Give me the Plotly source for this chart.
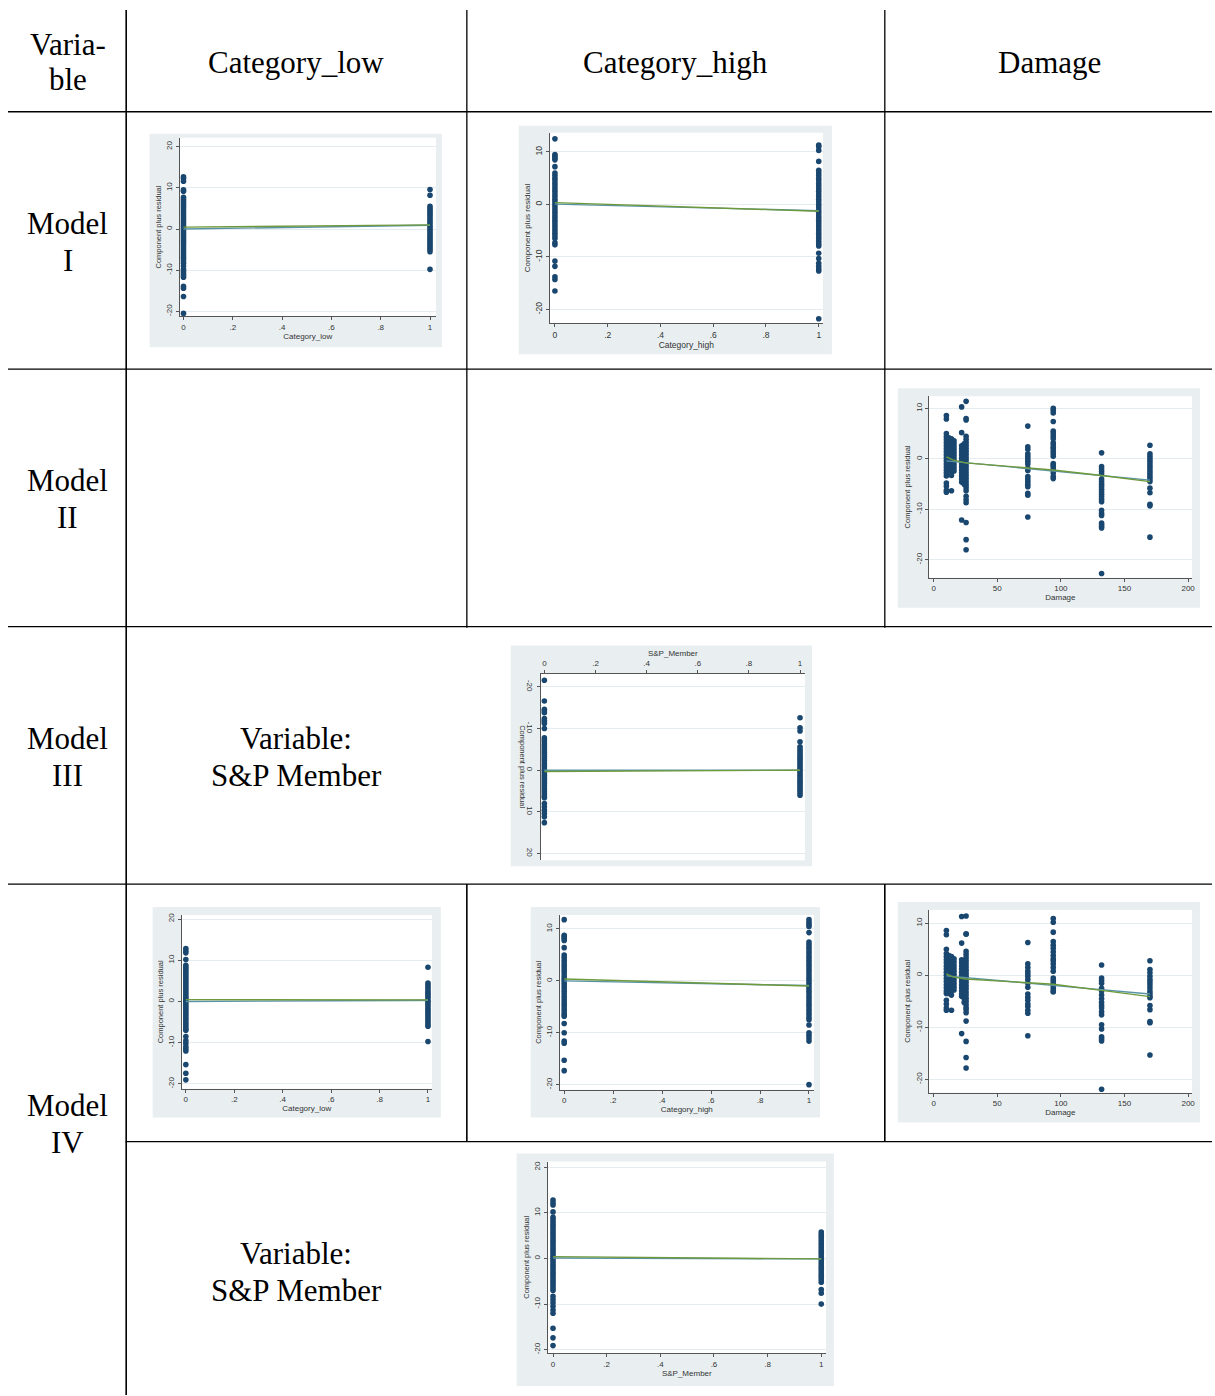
import plotly.graph_objects as go

W, H = 1215, 1396

# ---------------- data ----------------
bin_ticks = [0, 0.2, 0.4, 0.6, 0.8, 1]
bin_ticklabels = ["0", ".2", ".4", ".6", ".8", "1"]
dmg_ticks = [0, 50, 100, 150, 200]
dmg_ticklabels = ["0", "50", "100", "150", "200"]
y_ticks_wide = [-20, -10, 0, 10, 20]
y_ticks_narrow = [-20, -10, 0, 10]

header_labels = ["Category_low", "Category_high", "Damage"]
row_labels = [("Model", "I"), ("Model", "II"), ("Model", "III"), ("Model", "IV")]
y_title = "Component plus residual"

# Model I - Category_low
m1_low_at0 = [12.7, 12.3, 11.6, 9.5, 9.2, 7.7, 7.2, 6.7, 6.2, 5.7, 5.2, 4.7, 4.2, 3.7, 3.2, 2.7, 2.2, 1.7,
              1.2, 0.7, 0.2, -0.3, -0.8, -1.3, -1.8, -2.3, -2.8, -3.3, -3.8, -4.3, -4.8, -5.3, -5.8, -6.3,
              -6.8, -7.2, -7.8, -8.3, -9.0, -9.8, -10.3, -10.8, -11.3, -11.7, -13.9, -14.4, -16.4, -20.5]
m1_low_at1 = [9.6, 8.2, 5.5, 5.0, 4.5, 4.0, 3.5, 3.0, 2.5, 2.0, 1.5, 1.0, 0.5, 0.0, -0.5, -1.0, -1.5,
              -2.0, -2.5, -3.0, -3.5, -4.0, -4.5, -5.0, -5.5, -9.8]
m1_low_lowess = [0.45, 1.0]
m1_low_fit = [0.0, 0.9]

# Model I - Category_high
m1_high_at0 = [12.5, 9.5, 9.2, 8.8, 8.5, 7.2, 6.0, 5.5, 5.0, 4.5, 4.0, 3.5, 3.0, 2.5, 2.0, 1.5, 1.0, 0.5,
               0.0, -0.5, -1.0, -1.5, -2.0, -2.5, -3.0, -3.5, -4.0, -4.5, -5.0, -5.5, -6.0, -6.5, -7.3,
               -7.7, -10.8, -11.8, -13.8, -14.3, -16.5]
m1_high_at1 = [11.3, 11.0, 10.3, 8.2, 6.5, 6.0, 5.5, 5.0, 4.5, 4.0, 3.5, 3.0, 2.5, 2.0, 1.5, 1.0, 0.5,
               0.0, -0.5, -1.0, -1.5, -2.0, -2.5, -3.0, -3.5, -4.0, -4.5, -5.0, -5.5, -6.0, -6.5, -7.0,
               -7.5, -7.9, -9.3, -10.3, -11.2, -11.8, -12.3, -12.7, -21.8]
m1_high_lowess = [0.35, -1.3]
m1_high_fit = [0.05, -1.2]

# Damage levels (x) shared by the two Damage panels
damage_levels = [10, 12, 14, 16, 22, 24, 25.5, 74, 94, 132, 170]

# Model II - Damage
m2_dmg_values = [
    [8.6, 7.9, 5.0, 4.4, 3.8, 3.2, 2.6, 2.0, 1.4, 0.8, 0.2, -0.4, -1.0, -1.6, -2.2, -2.8, -3.4, -4.8, -5.4, -6.2, -6.6],
    [4.2, 3.6, 3.0, 2.4, 1.8, 1.2, 0.6, 0.0, -0.6, -1.2, -1.8, -2.4, -3.0],
    [4.0, 3.4, 2.8, 2.2, 1.6, 1.0, 0.4, -0.2, -0.8, -1.4, -2.0, -2.6, -3.3, -6.3],
    [3.6, 3.0, 2.4, 1.8, 1.2, 0.6, 0.0, -0.6, -1.2, -1.8, -2.4],
    [10.3, 5.2, 2.6, 2.0, 1.4, 0.8, 0.2, -0.4, -1.0, -1.6, -2.2, -2.8, -3.4, -4.0, -4.6, -12.1],
    [3.0, 2.4, 1.8, 1.2, 0.6, 0.0, -0.6, -1.2, -1.8, -2.4, -3.0, -3.6, -4.2, -5.0],
    [11.4, 8.0, 7.7, 4.5, 3.9, 3.3, 2.7, 2.1, 1.5, 0.9, 0.3, -0.3, -0.9, -1.5, -2.1, -2.7, -3.3, -3.9, -4.5,
     -5.1, -5.7, -6.3, -7.4, -8.1, -8.7, -12.6, -16.0, -18.0],
    [6.5, 2.4, 1.9, 1.0, 0.5, 0.0, -0.5, -1.0, -1.8, -2.3, -3.5, -4.0, -4.5, -5.0, -5.5, -6.8, -7.2, -11.5],
    [10.0, 9.6, 9.1, 7.4, 5.5, 5.0, 4.5, 4.0, 3.2, 2.8, 2.3, 2.0, 1.5, 1.0, 0.5, -0.9, -1.2, -1.5, -2.0,
     -2.3, -2.8, -3.5, -3.9],
    [1.2, -1.5, -2.0, -2.5, -3.0, -4.0, -4.5, -5.0, -5.5, -6.0, -6.5, -7.0, -7.5, -8.0, -8.5, -10.2, -10.8,
     -11.2, -12.7, -13.0, -13.4, -13.7, -22.7],
    [2.7, 1.0, 0.5, 0.0, -0.5, -1.0, -1.5, -2.0, -2.5, -3.0, -3.5, -4.0, -4.5, -5.8, -6.7, -9.0, -9.3, -15.5],
]
dmg_lowess_x = [10, 15, 25, 74, 94, 132, 170]
m2_dmg_lowess = [0.4, -0.2, -0.8, -1.8, -2.2, -3.3, -4.5]
dmg_fit_x = [10, 170]
m2_dmg_fit = [-0.4, -4.2]

# Model III - S&P Member (panel is shown vertically flipped)
m3_sp_at0 = [-21.6, -16.6, -14.6, -14.2, -13.8, -12.4, -12.0, -11.6, -11.2, -10.0, -7.8, -7.3, -6.8, -6.3,
             -5.8, -5.3, -4.8, -4.3, -3.8, -3.3, -2.8, -2.3, -1.8, -1.3, -0.8, -0.3, 0.2, 0.7, 1.2, 1.7,
             2.2, 2.7, 3.2, 3.7, 4.2, 4.7, 5.2, 5.7, 6.2, 6.6, 8.0, 8.8, 9.6, 10.4, 11.2, 12.6]
m3_sp_at1 = [-12.6, -10.2, -9.4, -6.8, -5.6, -5.1, -4.6, -4.1, -3.6, -3.1, -2.6, -2.1, -1.6, -1.1, -0.6,
             -0.1, 0.4, 0.9, 1.4, 1.9, 2.4, 2.9, 3.4, 3.9, 4.4, 4.9, 5.4, 6.0]
m3_sp_lowess = [0.3, 0.0]
m3_sp_fit = [0.0, 0.0]

# Model IV - Category_low
m4_low_at0 = [12.85, 12.3, 11.8, 10.2, 8.8, 8.3, 7.8, 7.3, 6.8, 6.3, 5.8, 5.3, 4.8, 4.3, 3.8, 3.3, 2.8, 2.3,
              1.8, 1.3, 0.8, 0.3, -0.2, -0.7, -1.2, -1.7, -2.2, -2.7, -3.2, -3.7, -4.2, -4.7, -5.2, -5.7,
              -6.2, -6.7, -7.0, -8.5, -9.5, -10.2, -11.0, -11.5, -12.0, -15.3, -17.4, -19.0]
m4_low_at1 = [8.3, 4.5, 4.0, 3.5, 3.0, 2.5, 2.0, 1.5, 1.0, 0.5, 0.0, -0.5, -1.0, -1.5, -2.0, -2.5, -3.0,
              -3.5, -4.0, -4.5, -5.0, -5.5, -6.0, -9.7]
m4_low_lowess = [0.45, 0.4]
m4_low_fit = [0.0, 0.3]

# Model IV - Category_high
m4_high_at0 = [11.8, 8.8, 8.5, 8.2, 7.8, 6.4, 5.0, 4.5, 4.0, 3.5, 3.0, 2.5, 2.0, 1.5, 1.0, 0.5, 0.0, -0.5,
               -1.0, -1.5, -2.0, -2.5, -3.0, -3.5, -4.0, -4.5, -5.0, -5.5, -6.0, -6.5, -6.8, -8.2, -10.0,
               -11.6, -12.0, -15.3, -17.3]
m4_high_at1 = [11.8, 11.3, 10.8, 10.5, 9.3, 7.5, 7.0, 6.5, 6.0, 5.5, 5.0, 4.5, 4.0, 3.5, 3.0, 2.5, 2.0, 1.5,
               1.0, 0.5, 0.0, -0.5, -1.0, -1.5, -2.0, -2.5, -3.0, -3.5, -4.0, -4.5, -5.0, -5.5, -6.0, -6.5,
               -7.0, -7.5, -8.5, -10.0, -10.5, -11.0, -11.6, -20.0]
m4_high_lowess = [0.35, -1.0]
m4_high_fit = [0.0, -0.9]

# Model IV - Damage
m4_dmg_values = [
    [8.6, 7.8, 5.0, 4.2, 3.6, 3.0, 2.4, 1.8, 1.2, 0.6, 0.0, -0.6, -1.2, -1.8, -2.4, -3.0, -3.5, -4.8, -5.5, -6.3, -6.7],
    [3.8, 3.2, 2.6, 2.0, 1.4, 0.8, 0.2, -0.4, -1.0, -1.6, -2.2, -2.8, -3.5],
    [3.6, 3.0, 2.4, 1.8, 1.2, 0.6, 0.0, -0.6, -1.2, -1.8, -2.4, -3.0, -3.8, -6.7],
    [3.2, 2.6, 2.0, 1.4, 0.8, 0.2, -0.4, -1.0, -1.6, -2.2, -2.8],
    [11.3, 6.2, 3.0, 2.4, 1.8, 1.2, 0.6, 0.0, -0.6, -1.2, -1.8, -2.4, -3.0, -3.6, -4.0, -11.2],
    [2.8, 2.2, 1.6, 1.0, 0.4, -0.2, -0.8, -1.4, -2.0, -2.6, -3.2, -3.8, -4.5, -5.2],
    [11.4, 8.0, 7.9, 4.6, 4.0, 3.4, 2.8, 2.2, 1.6, 1.0, 0.4, -0.2, -0.8, -1.4, -2.0, -2.6, -3.2, -3.8, -4.4,
     -5.0, -5.6, -6.2, -6.6, -7.2, -8.8, -12.7, -15.8, -17.8],
    [6.3, 2.2, 1.5, 0.8, 0.3, -0.2, -0.8, -1.5, -2.3, -3.6, -4.2, -4.8, -5.5, -6.0, -6.7, -7.3, -11.6],
    [10.9, 10.2, 8.3, 6.5, 5.8, 5.2, 4.5, 3.8, 3.2, 2.8, 2.2, 1.5, 0.8, -0.5, -1.0, -1.5, -2.0, -2.5, -3.0, -3.2],
    [2.0, -0.5, -1.0, -1.5, -2.5, -3.0, -3.8, -4.5, -5.2, -5.8, -6.3, -7.0, -7.6, -9.5, -10.3, -11.8, -12.2,
     -12.6, -21.9],
    [2.8, 1.1, 0.5, -0.2, -0.8, -1.3, -1.8, -2.4, -3.0, -3.5, -4.0, -4.3, -5.8, -6.6, -8.9, -9.1, -15.3],
]
m4_dmg_lowess = [0.3, -0.3, -0.7, -1.4, -1.7, -2.9, -4.1]
m4_dmg_fit = [-0.1, -3.6]

# Model IV - S&P Member
m4_sp_at0 = [12.8, 12.2, 11.7, 10.2, 9.0, 8.5, 8.0, 7.5, 7.0, 6.5, 6.0, 5.5, 5.0, 4.5, 4.0, 3.5, 3.0, 2.5,
             2.0, 1.5, 1.0, 0.5, 0.0, -0.5, -1.0, -1.5, -2.0, -2.5, -3.0, -3.5, -4.0, -4.5, -5.0, -5.5,
             -6.0, -6.5, -7.0, -8.3, -9.0, -9.7, -10.5, -11.3, -12.0, -15.3, -17.4, -19.1]
m4_sp_at1 = [5.8, 5.3, 4.8, 4.3, 3.8, 3.3, 2.8, 2.3, 1.8, 1.3, 0.8, 0.3, -0.2, -0.7, -1.2, -1.7, -2.2,
             -2.7, -3.2, -3.7, -4.2, -4.7, -5.2, -6.8, -7.6, -10.0]
m4_sp_lowess = [0.4, -0.1]
m4_sp_fit = [0.1, -0.1]

# ---------------- styling ----------------
DOT = "#1a476f"
GREEN = "#6f9a3c"
TEAL = "#5a93a8"
BG = "#E9EFF1"
GRID = "#E4ECEF"
AXIS = "#555555"
SERIF = "Liberation Serif"
SANS = "Liberation Sans"

fig = go.Figure()
shapes = []
annotations = []
layout_axes = {}


def px_x(v):
    return v / W


def px_y(v):
    return 1 - v / H


def binary_points(at0, at1):
    return [0] * len(at0) + [1] * len(at1), at0 + at1


def damage_points(levels, values):
    xs, ys = [], []
    for lv, vals in zip(levels, values):
        xs += [lv] * len(vals)
        ys += vals
    return xs, ys


def add_panel(i, bg_box, plot_box, xr, yr, xticks, xlabels, yticks, xtitle,
              pts, lines, flip=False, fs=8):
    xn = "x" if i == 1 else f"x{i}"
    yn = "y" if i == 1 else f"y{i}"
    xk = "xaxis" if i == 1 else f"xaxis{i}"
    yk = "yaxis" if i == 1 else f"yaxis{i}"
    bx0, by0, bx1, by1 = bg_box
    x0, y0, x1, y1 = plot_box
    shapes.append(dict(type="rect", xref="paper", yref="paper", layer="below",
                       x0=px_x(bx0), x1=px_x(bx1), y0=px_y(by1), y1=px_y(by0),
                       fillcolor=BG, line=dict(width=0)))
    shapes.append(dict(type="rect", xref="paper", yref="paper", layer="below",
                       x0=px_x(x0), x1=px_x(x1), y0=px_y(y1), y1=px_y(y0),
                       fillcolor="white", line=dict(width=0)))
    tickfont = dict(family=SANS, size=fs, color="#333")
    layout_axes[xk] = dict(
        domain=[px_x(x0), px_x(x1)], range=xr, anchor=yn,
        tickvals=xticks, ticktext=xlabels, showline=True, linecolor=AXIS, linewidth=1,
        ticks="outside", ticklen=3, tickcolor=AXIS, tickfont=tickfont,
        showgrid=False, zeroline=False, side="top" if flip else "bottom",
        title=dict(text=xtitle, font=dict(family=SANS, size=fs, color="#333"), standoff=1),
    )
    layout_axes[yk] = dict(
        domain=[px_y(y1), px_y(y0)], range=yr, anchor=xn,
        tickvals=yticks, ticktext=[str(t) for t in yticks], tickangle=90 if flip else -90,
        showline=True, linecolor=AXIS, linewidth=1, ticks="outside", ticklen=3, tickcolor=AXIS,
        tickfont=tickfont, showgrid=True, gridcolor=GRID, gridwidth=1, zeroline=False,
        title=dict(text="" if flip else y_title, font=dict(family=SANS, size=fs - 0.5, color="#333"),
                   standoff=2),
    )
    if flip:
        annotations.append(dict(text=y_title, xref="paper", yref="paper",
                                x=px_x(x0 - 19), y=px_y((y0 + y1) / 2), textangle=90,
                                showarrow=False, font=dict(family=SANS, size=fs - 0.5, color="#333")))
    px, py = pts
    fig.add_trace(go.Scatter(x=px, y=py, mode="markers", xaxis=xn, yaxis=yn,
                             marker=dict(color=DOT, size=5.6, line=dict(width=0)),
                             showlegend=False, hoverinfo="skip"))
    for lx, ly, col in lines:
        fig.add_trace(go.Scatter(x=lx, y=ly, mode="lines", xaxis=xn, yaxis=yn,
                                 line=dict(color=col, width=1.4), showlegend=False, hoverinfo="skip"))


# Model I
add_panel(1, (150, 132, 443, 346), (180, 136, 437, 315), [-0.016, 1.024], [-21.21, 22.18],
          bin_ticks, bin_ticklabels, y_ticks_wide, "Category_low",
          binary_points(m1_low_at0, m1_low_at1),
          [([0, 1], m1_low_fit, TEAL), ([0, 1], m1_low_lowess, GREEN)])
add_panel(2, (520, 124, 834, 353), (551, 131, 825, 322), [-0.020, 1.016], [-22.66, 13.67],
          bin_ticks, bin_ticklabels, y_ticks_narrow, "Category_high",
          binary_points(m1_high_at0, m1_high_at1),
          [([0, 1], m1_high_fit, TEAL), ([0, 1], m1_high_lowess, GREEN)], fs=8.5)
# Model II
add_panel(3, (900, 387, 1203, 607), (931, 395, 1195, 577), [-3.9, 203.1], [-23.55, 12.43],
          dmg_ticks, dmg_ticklabels, y_ticks_narrow, "Damage",
          damage_points(damage_levels, m2_dmg_values),
          [(dmg_fit_x, m2_dmg_fit, TEAL), (dmg_lowess_x, m2_dmg_lowess, GREEN)])
# Model III (flipped)
add_panel(4, (512, 645, 814, 866), (542, 673, 807, 860), [-0.0145, 1.0195], [21.6, -23.2],
          bin_ticks, bin_ticklabels, y_ticks_wide, "S&P_Member",
          binary_points(m3_sp_at0, m3_sp_at1),
          [([0, 1], m3_sp_fit, TEAL), ([0, 1], m3_sp_lowess, GREEN)], flip=True)
# Model IV
add_panel(5, (153, 907, 442, 1118), (182, 915, 433, 1089), [-0.0177, 1.0164], [-21.14, 20.97],
          bin_ticks, bin_ticklabels, y_ticks_wide, "Category_low",
          binary_points(m4_low_at0, m4_low_at1),
          [([0, 1], m4_low_fit, TEAL), ([0, 1], m4_low_lowess, GREEN)])
add_panel(6, (532, 907, 822, 1118), (561, 915, 816, 1090), [-0.0187, 1.0204], [-20.96, 12.69],
          bin_ticks, bin_ticklabels, y_ticks_narrow, "Category_high",
          binary_points(m4_high_at0, m4_high_at1),
          [([0, 1], m4_high_fit, TEAL), ([0, 1], m4_high_lowess, GREEN)])
add_panel(7, (900, 902, 1203, 1123), (931, 910, 1195, 1093), [-3.9, 203.1], [-22.55, 12.55],
          dmg_ticks, dmg_ticklabels, y_ticks_narrow, "Damage",
          damage_points(damage_levels, m4_dmg_values),
          [(dmg_fit_x, m4_dmg_fit, TEAL), (dmg_lowess_x, m4_dmg_lowess, GREEN)])
add_panel(8, (518, 1154, 836, 1387), (549, 1162, 828, 1354), [-0.020, 1.0175], [-20.74, 21.25],
          bin_ticks, bin_ticklabels, y_ticks_wide, "S&P_Member",
          binary_points(m4_sp_at0, m4_sp_at1),
          [([0, 1], m4_sp_fit, TEAL), ([0, 1], m4_sp_lowess, GREEN)])

# ---------------- table grid ----------------
def hline(y, xa, xb, w=1.3):
    shapes.append(dict(type="line", xref="paper", yref="paper", x0=px_x(xa), x1=px_x(xb),
                       y0=px_y(y), y1=px_y(y), line=dict(color="black", width=w)))


def vline(x, ya, yb, w=1.3):
    shapes.append(dict(type="line", xref="paper", yref="paper", x0=px_x(x), x1=px_x(x),
                       y0=px_y(ya), y1=px_y(yb), line=dict(color="black", width=w)))


vline(126.5, 8, 1396, 1.6)
vline(468, 8, 627)
vline(887, 8, 627)
vline(468, 884, 1142, 1.6)
vline(887, 884, 1142, 1.6)
for yy in [110, 368, 626, 884]:
    hline(yy, 8, 1215)
hline(1142, 126, 1215)


def text(s, x, y, size=31):
    annotations.append(dict(text=s, xref="paper", yref="paper", x=px_x(x), y=px_y(y),
                            xanchor="center", yanchor="middle", showarrow=False,
                            font=dict(family=SERIF, size=size, color="black")))


text("Varia-", 68, 43)
text("ble", 68, 78)
for lbl, cx in zip(header_labels, [297, 677, 1052]):
    text(lbl, cx, 61)
for (a, b), cy in zip(row_labels, [240, 498, 756, 1124]):
    text(a, 68, cy - 18)
    text(b, 68, cy + 19)
for cy in [756, 1272]:
    text("Variable:", 297, cy - 18)
    text("S&P Member", 297, cy + 19)

fig.update_layout(
    width=W, height=H, margin=dict(l=0, r=0, t=0, b=0),
    paper_bgcolor="white", plot_bgcolor="rgba(0,0,0,0)",
    shapes=shapes, annotations=annotations, showlegend=False,
    **layout_axes,
)

fig.write_html("out.html")
